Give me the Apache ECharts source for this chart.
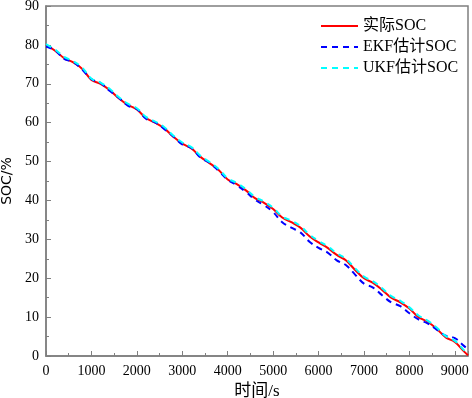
<!DOCTYPE html>
<html>
<head>
<meta charset="utf-8">
<script src="https://cdn.jsdelivr.net/npm/echarts@6/dist/echarts.min.js"></script>
<style>
  html, body { margin: 0; padding: 0; background: #fff; }
  #chart { width: 472px; height: 398px; }
</style>
</head>
<body>
<div id="chart"></div>
<script>
// time axis (s)
const timeS = [0, 200, 400, 600, 800, 1000, 1200, 1400, 1600, 1800,
  2000, 2200, 2400, 2600, 2800, 3000, 3200, 3400, 3600, 3800,
  4000, 4200, 4400, 4600, 4800, 5000, 5200, 5400, 5600, 5800,
  6000, 6200, 6400, 6600, 6800, 7000, 7200, 7400, 7600, 7800,
  8000, 8200, 8400, 8600, 8800, 9000, 9200, 9290];

// 实际SOC
const socActual = [80.0, 78.5, 76.6, 75.5, 73.8, 71.0, 70.0, 68.4, 66.3, 64.6,
  63.4, 61.2, 60.0, 58.6, 56.4, 54.6, 53.4, 51.2, 49.6, 47.8,
  45.4, 44.2, 42.6, 40.6, 39.4, 37.8, 35.6, 34.4, 33.0, 30.8,
  29.2, 27.8, 26.0, 24.6, 22.2, 20.0, 18.8, 17.0, 15.0, 13.8,
  12.2, 10.0, 8.8, 7.0, 4.8, 3.6, 1.2, 0.2];

// EKF估计SOC
const socEkf = [79.6, 78.6, 76.4, 75.6, 73.6, 71.2, 70.2, 68.2, 66.4, 64.4,
  63.5, 61.0, 60.1, 58.4, 56.5, 54.4, 53.5, 51.0, 49.7, 47.6,
  45.3, 43.9, 42.2, 40.2, 38.8, 37.0, 34.4, 33.0, 31.8, 29.4,
  27.8, 26.6, 24.6, 23.4, 21.0, 18.6, 17.6, 15.6, 13.8, 12.8,
  11.0, 9.4, 8.4, 6.8, 5.2, 4.6, 2.6, 1.8];

// UKF估计SOC
const socUkf = [80.2, 78.8, 76.9, 75.8, 74.1, 71.3, 70.3, 68.7, 66.6, 64.9,
  63.7, 61.5, 60.3, 58.9, 56.7, 54.9, 53.7, 51.5, 49.9, 48.1,
  45.7, 44.5, 42.9, 40.9, 39.7, 38.1, 35.9, 34.8, 33.4, 31.2,
  29.6, 28.2, 26.4, 25.0, 22.6, 20.4, 19.2, 17.4, 15.4, 14.2,
  12.5, 10.4, 9.1, 7.3, 5.1, 3.9, 1.5, 0.5];

const seriesNames = ["实际SOC", "EKF估计SOC", "UKF估计SOC"];

const chart = echarts.init(document.getElementById("chart"));
const font = "Times New Roman, Liberation Serif, Noto Sans CJK SC, serif";
const axisGray = "#7f7f7f";

const pairs = (ys) => timeS.map((t, i) => [t, ys[i]]);

const option = {
  animation: false,
  grid: {
    left: 46,
    right: 4,
    top: 6,
    bottom: 42,
    outerBoundsMode: "none",
    containLabel: false,
    show: true,
    borderColor: axisGray,
    borderWidth: 1.5,
  },
  legend: {
    left: 315,
    top: 13,
    orient: "vertical",
    itemWidth: 37,
    itemHeight: 14,
    itemGap: 5,
    data: seriesNames,
    itemStyle: { opacity: 0 },
    textStyle: { fontFamily: font, fontSize: 16, color: "#000" },
  },
  xAxis: {
    type: "value",
    min: 0,
    max: 9290,
    interval: 1000,
    name: "时间/s",
    nameLocation: "middle",
    nameGap: 24,
    nameTextStyle: { fontFamily: font, fontSize: 17, color: "#000" },
    axisLine: { lineStyle: { color: axisGray, width: 1.5 } },
    axisTick: { inside: true, length: 5, lineStyle: { color: axisGray } },
    minorTick: { show: true, splitNumber: 2, length: 3, lineStyle: { color: axisGray } },
    splitLine: { show: false },
    axisLabel: {
      showMaxLabel: false,
      margin: 8,
      formatter: (v) => String(v),
      fontFamily: font,
      fontSize: 14,
      color: "#000",
    },
  },
  yAxis: {
    type: "value",
    min: 0,
    max: 90,
    interval: 10,
    name: "SOC/%",
    nameLocation: "middle",
    nameGap: 29,
    nameTextStyle: { fontFamily: "DejaVu Sans, sans-serif", fontSize: 14, color: "#000" },
    axisLine: { lineStyle: { color: axisGray, width: 1.5 } },
    axisTick: { inside: true, length: 5, lineStyle: { color: axisGray } },
    minorTick: { show: true, splitNumber: 2, length: 3, lineStyle: { color: axisGray } },
    splitLine: { show: false },
    axisLabel: { margin: 7, fontFamily: font, fontSize: 14, color: "#000" },
  },
  series: [
    {
      name: seriesNames[0],
      type: "line",
      data: pairs(socActual),
      symbol: "none",
      smooth: 0.4,
      lineStyle: { color: "#ff0000", width: 2 },
      itemStyle: { color: "#ff0000" },
    },
    {
      name: seriesNames[1],
      type: "line",
      data: pairs(socEkf),
      symbol: "none",
      smooth: 0.4,
      lineStyle: { color: "#0000ff", width: 2, type: [6, 5] },
      itemStyle: { color: "#0000ff" },
    },
    {
      name: seriesNames[2],
      type: "line",
      data: pairs(socUkf),
      symbol: "none",
      smooth: 0.4,
      lineStyle: { color: "#00ffff", width: 2, type: [6, 5] },
      itemStyle: { color: "#00ffff" },
    },
  ],
};

chart.setOption(option);
</script>
</body>
</html>
